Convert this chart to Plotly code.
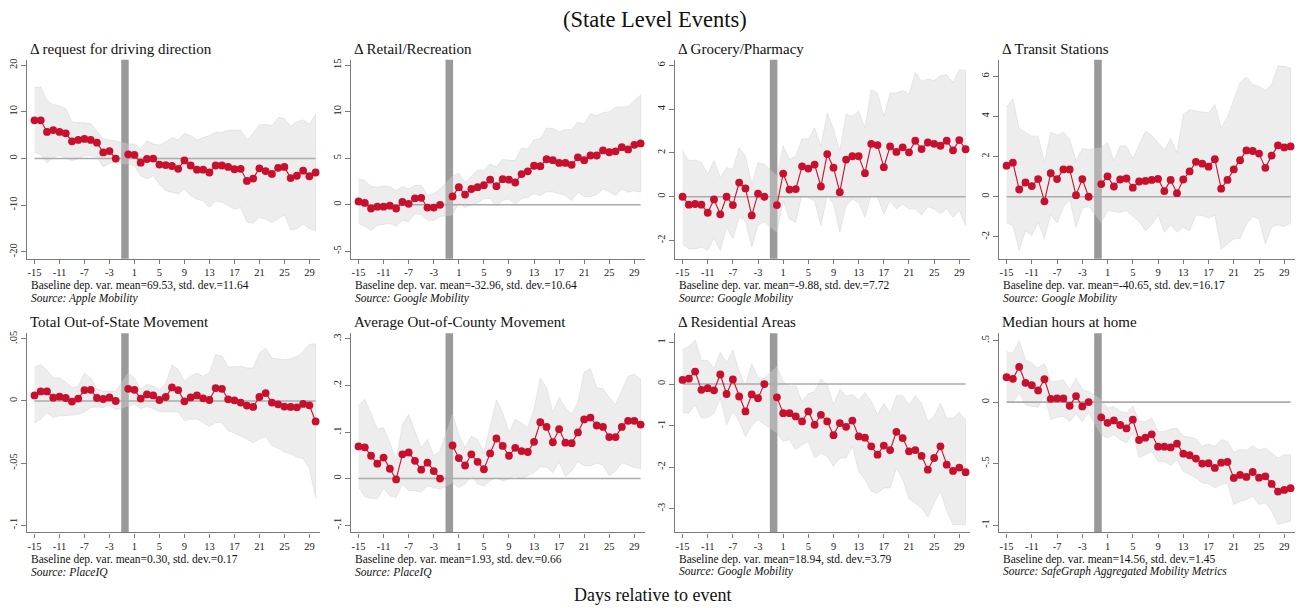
import plotly.graph_objects as go

# Event-time axis: days -15..-2 and 0..30 (day -1 omitted)
days = list(range(-15, -1)) + list(range(0, 31))
tick_days = list(range(-15, 30, 4))

# --- Apple Mobility: request for driving direction
driving_coef = [8.2, 8.2, 5.7, 6.1, 5.7, 5.4, 3.7, 4.0, 4.2, 4.0, 3.4, 1.3, 1.6, 0.0,
                0.9, 0.8, -0.9, -0.1, 0.0, -1.3, -1.4, -1.6, -2.2, -0.4, -1.5, -2.4, -2.4, -3.0,
                -1.5, -1.5, -1.8, -2.3, -2.2, -4.8, -4.3, -2.1, -2.7, -3.3, -2.0, -1.8, -4.2,
                -3.7, -2.6, -3.8, -3.0]
driving_hi = [15.2, 15.4, 12.4, 11.6, 11.3, 10.7, 7.9, 7.7, 7.7, 7.5, 5.9, 4.3, 4.0, 3.8,
              3.1, 3.1, 2.0, 3.8, 3.1, 2.9, 3.6, 4.5, 4.0, 5.4, 4.9, 4.0, 4.5, 4.9,
              5.7, 5.6, 6.1, 6.1, 6.1, 4.0, 5.4, 7.3, 7.3, 7.1, 8.8, 8.6, 6.9,
              7.9, 8.3, 7.4, 9.5]
driving_lo = [1.3, 0.9, -0.9, 0.2, 0.7, 0.2, -0.5, 0.0, 0.6, 0.6, 0.4, -1.8, -1.0, -0.9,
              -1.2, -1.6, -3.7, -4.4, -3.7, -5.5, -6.9, -7.3, -7.6, -6.6, -8.0, -8.7, -9.1, -10.5,
              -9.1, -9.4, -10.1, -10.9, -10.5, -13.6, -13.9, -12.6, -13.0, -13.7, -13.0, -12.1, -15.3,
              -15.1, -14.1, -15.0, -15.5]

# --- Google Mobility: retail / recreation
retail_coef = [0.36, 0.2, -0.4, -0.2, -0.2, -0.1, -0.4, 0.3, 0.1, 0.7, 0.75, -0.3, -0.3, 0.0,
               0.9, 1.9, 1.1, 1.7, 1.9, 2.1, 2.7, 2.0, 2.75, 2.7, 2.4, 3.3, 3.6, 4.2,
               4.15, 4.9, 4.8, 4.5, 4.5, 4.3, 5.1, 4.8, 5.3, 5.3, 5.85, 5.65, 5.75,
               6.2, 5.95, 6.45, 6.6]
retail_hi = [2.8, 2.6, 2.0, 1.9, 2.0, 2.0, 1.5, 2.0, 1.7, 2.1, 2.1, 1.0, 1.2, 1.7,
             3.1, 3.4, 2.4, 3.1, 3.75, 3.7, 4.4, 4.1, 4.9, 4.8, 4.75, 6.1, 6.0, 7.0,
             7.1, 8.25, 8.2, 7.85, 8.1, 8.1, 8.9, 8.7, 9.8, 9.6, 9.9, 10.0, 10.5,
             10.5, 10.6, 11.2, 11.8]
retail_lo = [-2.0, -2.3, -2.8, -2.2, -2.1, -2.0, -2.3, -1.7, -1.8, -1.0, -1.0, -1.7, -1.7, -1.25,
             -1.1, 0.2, -0.3, 0.0, 0.2, 0.65, 0.65, -0.15, 0.45, 0.65, 0.0, 0.65, 0.8, 1.2,
             1.0, 1.4, 1.4, 1.2, 1.0, 0.45, 1.35, 0.9, 0.9, 1.1, 1.7, 1.4, 1.0,
             1.7, 1.35, 1.5, 1.35]

# --- Google Mobility: grocery / pharmacy
grocery_coef = [0.0, -0.36, -0.33, -0.36, -0.73, -0.12, -0.8, 0.0, -0.38, 0.65, 0.38, -0.85, 0.14, 0.0,
                -0.38, 1.06, 0.33, 0.35, 1.39, 1.29, 1.47, 0.47, 1.95, 1.33, 0.21, 1.7, 1.85, 1.85,
                1.08, 2.42, 2.36, 1.35, 2.3, 2.05, 2.26, 2.03, 2.56, 2.18, 2.48, 2.42, 2.33,
                2.56, 2.12, 2.59, 2.17]
grocery_hi = [2.09, 1.64, 1.68, 1.56, 1.03, 1.64, 0.88, 1.33, 1.26, 2.24, 1.86, 0.58, 1.56, 1.48,
              0.95, 2.32, 1.71, 1.86, 2.65, 2.65, 3.15, 2.32, 3.83, 3.08, 2.09, 3.76, 3.68, 3.91,
              3.15, 4.89, 4.74, 3.68, 4.74, 4.74, 4.86, 4.67, 5.68, 5.27, 5.39, 5.3, 5.53,
              5.58, 5.23, 5.8, 5.77]
grocery_lo = [-2.15, -2.38, -2.38, -2.3, -2.45, -1.89, -2.45, -1.39, -1.92, -0.94, -1.09, -2.3, -1.29, -1.14,
              -1.62, -0.18, -1.02, -1.17, 0.12, -0.06, -0.18, -1.32, 0.05, -0.33, -1.62, -0.41, -0.11, -0.26,
              -0.94, 0.12, -0.03, -0.79, -0.18, -0.56, -0.33, -0.56, -0.56, -0.83, -0.45, -0.56, -0.79,
              -0.53, -0.94, -0.64, -1.32]

# --- Google Mobility: transit stations
transit_coef = [1.55, 1.7, 0.36, 0.71, 0.53, 0.88, -0.23, 1.17, 0.88, 1.36, 1.36, 0.08, 0.88, 0.0,
                0.63, 1.02, 0.51, 0.86, 0.91, 0.45, 0.76, 0.79, 0.84, 0.89, 0.28, 0.84, 0.18, 0.86,
                1.26, 1.74, 1.65, 1.5, 1.87, 0.4, 0.84, 1.36, 1.82, 2.31, 2.28, 2.15, 1.44,
                2.05, 2.56, 2.46, 2.51]
transit_hi = [4.48, 4.88, 3.39, 3.19, 3.02, 3.02, 1.7, 3.22, 3.06, 3.22, 2.86, 1.79, 2.4, 2.36,
              2.45, 2.69, 1.79, 2.53, 2.53, 1.9, 2.61, 3.27, 3.06, 2.69, 2.33, 2.89, 2.2, 4.1,
              4.35, 4.26, 4.21, 4.18, 4.6, 3.44, 3.98, 4.84, 5.7, 5.97, 5.59, 5.5, 5.31,
              5.59, 6.53, 6.5, 6.41]
transit_lo = [-1.31, -1.44, -2.68, -1.69, -1.93, -1.27, -2.1, -0.86, -1.31, -0.53, -0.12, -1.52, -0.58, -0.48,
              -1.27, -0.69, -0.74, -0.78, -0.69, -0.94, -1.24, -1.69, -1.4, -0.91, -1.77, -1.4, -1.77, -1.52,
              -1.69, -0.91, -0.94, -1.07, -0.91, -2.6, -2.35, -2.1, -2.07, -1.36, -0.98, -1.11, -2.35,
              -1.52, -1.4, -1.49, -1.31]

# --- PlaceIQ: total out-of-state movement
outstate_coef = [0.0045, 0.0077, 0.0077, 0.0027, 0.0035, 0.0024, -0.0005, 0.0019, 0.0088, 0.009, 0.0024, 0.0016, 0.0029, 0.0,
                 0.0098, 0.009, 0.0019, 0.0053, 0.0045, 0.0008, 0.0032, 0.0109, 0.0088, -0.0003, 0.0029, 0.0045, 0.0021, 0.0008,
                 0.0104, 0.0098, 0.0013, 0.0005, -0.0013, -0.0037, -0.0048, 0.0032, 0.0064, -0.0013, -0.0027, -0.0045, -0.0048,
                 -0.0051, -0.0024, -0.0035, -0.0165]
outstate_hi = [0.0274, 0.0293, 0.0247, 0.0186, 0.0186, 0.0152, 0.0106, 0.012, 0.0226, 0.0186, 0.0093, 0.008, 0.008, 0.008,
               0.0226, 0.0186, 0.0093, 0.0133, 0.012, 0.0093, 0.0138, 0.0293, 0.0253, 0.016, 0.02, 0.0226, 0.02, 0.0226,
               0.0372, 0.0364, 0.0274, 0.0274, 0.0279, 0.0266, 0.0266, 0.0386, 0.0426, 0.0346, 0.034, 0.0332, 0.034,
               0.0359, 0.0399, 0.0457, 0.046]
outstate_lo = [-0.0178, -0.0146, -0.0093, -0.0133, -0.012, -0.0114, -0.0114, -0.0106, -0.0088, -0.0053, -0.0048, -0.0053, -0.0035, -0.0072,
               -0.004, -0.0027, -0.0061, -0.0045, -0.0061, -0.0088, -0.0088, -0.0088, -0.0088, -0.016, -0.0146, -0.0146, -0.0173, -0.0205,
               -0.0173, -0.0173, -0.0239, -0.0258, -0.0279, -0.0306, -0.0338, -0.0306, -0.0287, -0.0359, -0.038, -0.0412, -0.0426,
               -0.0452, -0.0465, -0.0545, -0.078]

# --- PlaceIQ: average out-of-county movement
outcounty_coef = [0.069, 0.067, 0.049, 0.032, 0.045, 0.021, -0.002, 0.052, 0.056, 0.038, 0.019, 0.034, 0.016, 0.0,
                  0.071, 0.044, 0.028, 0.052, 0.036, 0.02, 0.054, 0.086, 0.07, 0.049, 0.066, 0.059, 0.057, 0.079,
                  0.121, 0.111, 0.078, 0.106, 0.077, 0.076, 0.099, 0.127, 0.131, 0.114, 0.111, 0.089, 0.089,
                  0.111, 0.124, 0.124, 0.116]
outcounty_hi = [0.157, 0.17, 0.14, 0.106, 0.109, 0.077, 0.038, 0.116, 0.138, 0.102, 0.066, 0.084, 0.049, 0.059,
                0.138, 0.095, 0.066, 0.091, 0.084, 0.056, 0.113, 0.169, 0.141, 0.099, 0.127, 0.12, 0.109, 0.149,
                0.216, 0.195, 0.141, 0.174, 0.152, 0.138, 0.164, 0.229, 0.236, 0.195, 0.193, 0.174, 0.159,
                0.191, 0.22, 0.224, 0.214]
outcounty_lo = [-0.018, -0.039, -0.043, -0.043, -0.021, -0.037, -0.041, -0.012, -0.026, -0.026, -0.029, -0.016, -0.019, -0.023,
                -0.009, -0.019, -0.012, 0.006, -0.012, -0.016, -0.005, 0.002, -0.005, -0.001, 0.006, -0.001, 0.006, 0.013,
                0.025, 0.024, 0.013, 0.036, 0.004, 0.016, 0.036, 0.027, 0.027, 0.033, 0.029, 0.006, 0.016,
                0.034, 0.029, 0.024, 0.021]

# --- Google Mobility: residential areas
residential_coef = [0.1, 0.13, 0.3, -0.14, -0.1, -0.15, 0.23, -0.24, 0.11, -0.3, -0.66, -0.25, -0.34, 0.0,
                    -0.32, -0.7, -0.7, -0.78, -0.9, -0.66, -0.98, -0.74, -0.9, -1.23, -0.94, -1.03, -0.88, -1.26,
                    -1.29, -1.5, -1.7, -1.48, -1.59, -1.15, -1.3, -1.62, -1.59, -1.73, -2.06, -1.78, -1.5,
                    -1.94, -2.09, -2.01, -2.12]
residential_hi = [0.84, 0.9, 1.06, 0.57, 0.57, 0.38, 0.76, 0.52, 0.82, 0.3, -0.02, 0.49, 0.16, 0.14,
                  0.42, 0.06, -0.06, -0.04, -0.42, -0.23, -0.18, 0.12, -0.02, -0.5, -0.12, -0.28, -0.26, -0.39,
                  -0.2, -0.42, -0.74, -0.47, -0.7, -0.28, -0.28, -0.5, -0.28, -0.46, -0.9, -0.78, -0.46,
                  -0.82, -0.82, -0.68, -0.86]
residential_lo = [-0.68, -0.7, -0.5, -0.82, -0.8, -0.71, -0.34, -0.98, -0.66, -0.9, -1.26, -1.0, -0.86, -0.98,
                  -1.18, -1.38, -1.34, -1.58, -1.46, -1.38, -1.78, -1.66, -1.75, -1.98, -1.78, -1.78, -1.5, -2.1,
                  -2.3, -2.58, -2.63, -2.5, -2.5, -2.02, -2.3, -2.76, -2.86, -2.98, -3.2, -2.86, -2.58,
                  -3.06, -3.38, -3.38, -3.38]

# --- SafeGraph: median hours at home
homehours_coef = [0.203, 0.189, 0.286, 0.157, 0.138, 0.095, 0.186, 0.027, 0.03, 0.03, -0.03, 0.049, -0.035, 0.0,
                  -0.124, -0.168, -0.149, -0.186, -0.214, -0.143, -0.308, -0.289, -0.262, -0.362, -0.362, -0.368, -0.338, -0.419,
                  -0.432, -0.459, -0.5, -0.497, -0.535, -0.492, -0.486, -0.616, -0.592, -0.608, -0.568, -0.614, -0.603,
                  -0.665, -0.727, -0.714, -0.7]
homehours_hi = [0.41, 0.397, 0.5, 0.343, 0.316, 0.276, 0.316, 0.168, 0.168, 0.181, 0.1, 0.195, 0.1, 0.086,
                0.019, -0.049, -0.035, -0.076, -0.089, -0.03, -0.157, -0.157, -0.13, -0.238, -0.238, -0.219, -0.211, -0.278,
                -0.284, -0.3, -0.359, -0.338, -0.359, -0.305, -0.319, -0.408, -0.386, -0.392, -0.354, -0.392, -0.373,
                -0.414, -0.454, -0.427, -0.427]
homehours_lo = [0.005, -0.008, 0.078, -0.022, -0.035, -0.041, 0.059, -0.143, -0.122, -0.116, -0.157, -0.095, -0.157, -0.084,
                -0.265, -0.292, -0.265, -0.305, -0.332, -0.251, -0.454, -0.427, -0.4, -0.481, -0.481, -0.516, -0.468, -0.562,
                -0.589, -0.616, -0.657, -0.662, -0.697, -0.67, -0.657, -0.832, -0.805, -0.792, -0.765, -0.832, -0.819,
                -0.886, -0.995, -0.981, -0.968]

panel_titles = ["\u0394 request for driving direction", "\u0394 Retail/Recreation",
                "\u0394 Grocery/Pharmacy", "\u0394 Transit Stations",
                "Total Out-of-State Movement", "Average Out-of-County Movement",
                "\u0394 Residential Areas", "Median hours at home"]
baseline_notes = ["Baseline dep. var. mean=69.53, std. dev.=11.64",
                  "Baseline dep. var. mean=-32.96, std. dev.=10.64",
                  "Baseline dep. var. mean=-9.88, std. dev.=7.72",
                  "Baseline dep. var. mean=-40.65, std. dev.=16.17",
                  "Baseline dep. var. mean=0.30, std. dev.=0.17",
                  "Baseline dep. var. mean=1.93, std. dev.=0.66",
                  "Baseline dep. var. mean=18.94, std. dev.=3.79",
                  "Baseline dep. var. mean=14.56, std. dev.=1.45"]
sources = ["Apple Mobility", "Google Mobility", "Google Mobility", "Google Mobility",
           "PlaceIQ", "PlaceIQ", "Google Mobility", "SafeGraph Aggregated Mobility Metrics"]

ytick_vals = [[-20, -10, 0, 10, 20], [-5, 0, 5, 10, 15], [-2, 0, 2, 4, 6], [-2, 0, 2, 4, 6],
              [-0.1, -0.05, 0, 0.05], [-0.1, 0, 0.1, 0.2, 0.3], [-3, -2, -1, 0, 1], [-1, -0.5, 0, 0.5]]
ytick_text = [["-20", "-10", "0", "10", "20"], ["-5", "0", "5", "10", "15"],
              ["-2", "0", "2", "4", "6"], ["-2", "0", "2", "4", "6"],
              ["-.1", "-.05", "0", ".05"], ["-.1", "0", ".1", ".2", ".3"],
              ["-3", "-2", "-1", "0", "1"], ["-1", "-.5", "0", ".5"]]
y_ranges = [[-21.5, 21.2], [-5.8, 15.6], [-2.83, 6.26], [-3.09, 6.83],
            [-0.1059, 0.0545], [-0.1157, 0.312], [-3.57, 1.22], [-1.059, 0.559]]

series = [(driving_coef, driving_hi, driving_lo), (retail_coef, retail_hi, retail_lo),
          (grocery_coef, grocery_hi, grocery_lo), (transit_coef, transit_hi, transit_lo),
          (outstate_coef, outstate_hi, outstate_lo), (outcounty_coef, outcounty_hi, outcounty_lo),
          (residential_coef, residential_hi, residential_lo), (homehours_coef, homehours_hi, homehours_lo)]

W, H = 1309, 608
FONT = "Liberation Serif"
RED = "#c8102e"
AXIS_GREY = "#7a7a7a"

col_px = [(27, 320), (351, 645), (675, 970), (999, 1295)]
row_px = [(57, 257), (332, 532)]

fig = go.Figure()
layout = dict(width=W, height=H, margin=dict(l=0, r=0, t=0, b=0),
              paper_bgcolor="white", plot_bgcolor="white",
              font=dict(family=FONT, color="#222"), showlegend=False)
annotations = []
shapes = []

for i, (coef, hi, lo) in enumerate(series):
    r, c = divmod(i, 4)
    n = i + 1
    suffix = "" if n == 1 else str(n)
    xa, ya = "x" + suffix, "y" + suffix
    xkey, ykey = "xaxis" + suffix, "yaxis" + suffix
    x0p, x1p = col_px[c]
    y0p, y1p = row_px[r]

    # confidence band
    fig.add_trace(go.Scatter(x=days + days[::-1], y=hi + lo[::-1], fill="toself",
                             fillcolor="rgba(212,212,212,0.42)",
                             line=dict(color="rgba(200,200,200,0.5)", width=0.7),
                             mode="lines", hoverinfo="skip", xaxis=xa, yaxis=ya))
    # zero reference line
    fig.add_trace(go.Scatter(x=[-15, 30], y=[0, 0], mode="lines",
                             line=dict(color="#ababab", width=1.6),
                             hoverinfo="skip", xaxis=xa, yaxis=ya))
    # point estimates, pre- and post-event segments drawn separately
    pre = [d < 0 for d in days]
    x_line = [d for d, p in zip(days, pre) if p] + [None] + [d for d, p in zip(days, pre) if not p]
    y_line = [v for v, p in zip(coef, pre) if p] + [None] + [v for v, p in zip(coef, pre) if not p]
    fig.add_trace(go.Scatter(x=x_line, y=y_line, mode="lines+markers", connectgaps=False,
                             line=dict(color=RED, width=1.1),
                             marker=dict(color=RED, size=7.8),
                             xaxis=xa, yaxis=ya))

    # event window marker
    shapes.append(dict(type="rect", xref=xa, yref=ya + " domain", x0=-1.12, x1=0.08,
                       y0=0, y1=1, fillcolor="#9a9a9a", line=dict(width=0), layer="below"))

    layout[xkey] = dict(domain=[x0p / W, x1p / W], range=[-16.2, 30.7], anchor=ya,
                        tickmode="array", tickvals=tick_days, ticktext=[str(t) for t in tick_days],
                        showgrid=False, zeroline=False, showline=True, linecolor=AXIS_GREY,
                        linewidth=1.3, ticks="outside", ticklen=4, tickcolor=AXIS_GREY,
                        tickfont=dict(family=FONT, size=10.5, color="#222"))
    layout[ykey] = dict(domain=[1 - y1p / H, 1 - y0p / H], range=y_ranges[i], anchor=xa,
                        tickmode="array", tickvals=ytick_vals[i], ticktext=ytick_text[i],
                        tickangle=-90, showgrid=False, zeroline=False, showline=True,
                        linecolor=AXIS_GREY, linewidth=1.3, ticks="outside", ticklen=5,
                        tickcolor=AXIS_GREY, tickfont=dict(family=FONT, size=10.5, color="#222"))

    annotations.append(dict(text=panel_titles[i], xref="paper", yref="paper",
                            x=(x0p + 1) / W, y=1 - (y0p - 11) / H, xanchor="left", yanchor="middle",
                            showarrow=False, font=dict(family=FONT, size=15, color="#111")))
    annotations.append(dict(text=baseline_notes[i], xref="paper", yref="paper",
                            x=(x0p + 2) / W, y=1 - (y1p + 27) / H, xanchor="left", yanchor="middle",
                            showarrow=False, font=dict(family=FONT, size=11.5, color="#111")))
    annotations.append(dict(text=f"<i>Source: {sources[i]}</i>", xref="paper", yref="paper",
                            x=(x0p + 2) / W, y=1 - (y1p + 39.5) / H, xanchor="left", yanchor="middle",
                            showarrow=False, font=dict(family=FONT, size=11.5, color="#111")))

annotations.append(dict(text="(State Level Events)", xref="paper", yref="paper", x=0.5,
                        y=1 - 17 / H, xanchor="center", yanchor="middle", showarrow=False,
                        font=dict(family=FONT, size=22.5, color="#111")))
annotations.append(dict(text="Days relative to event", xref="paper", yref="paper", x=652 / W,
                        y=1 - 595 / H, xanchor="center", yanchor="middle", showarrow=False,
                        font=dict(family=FONT, size=18, color="#111")))

layout["annotations"] = annotations
layout["shapes"] = shapes
fig.update_layout(**layout)
fig.write_html("out.html")
